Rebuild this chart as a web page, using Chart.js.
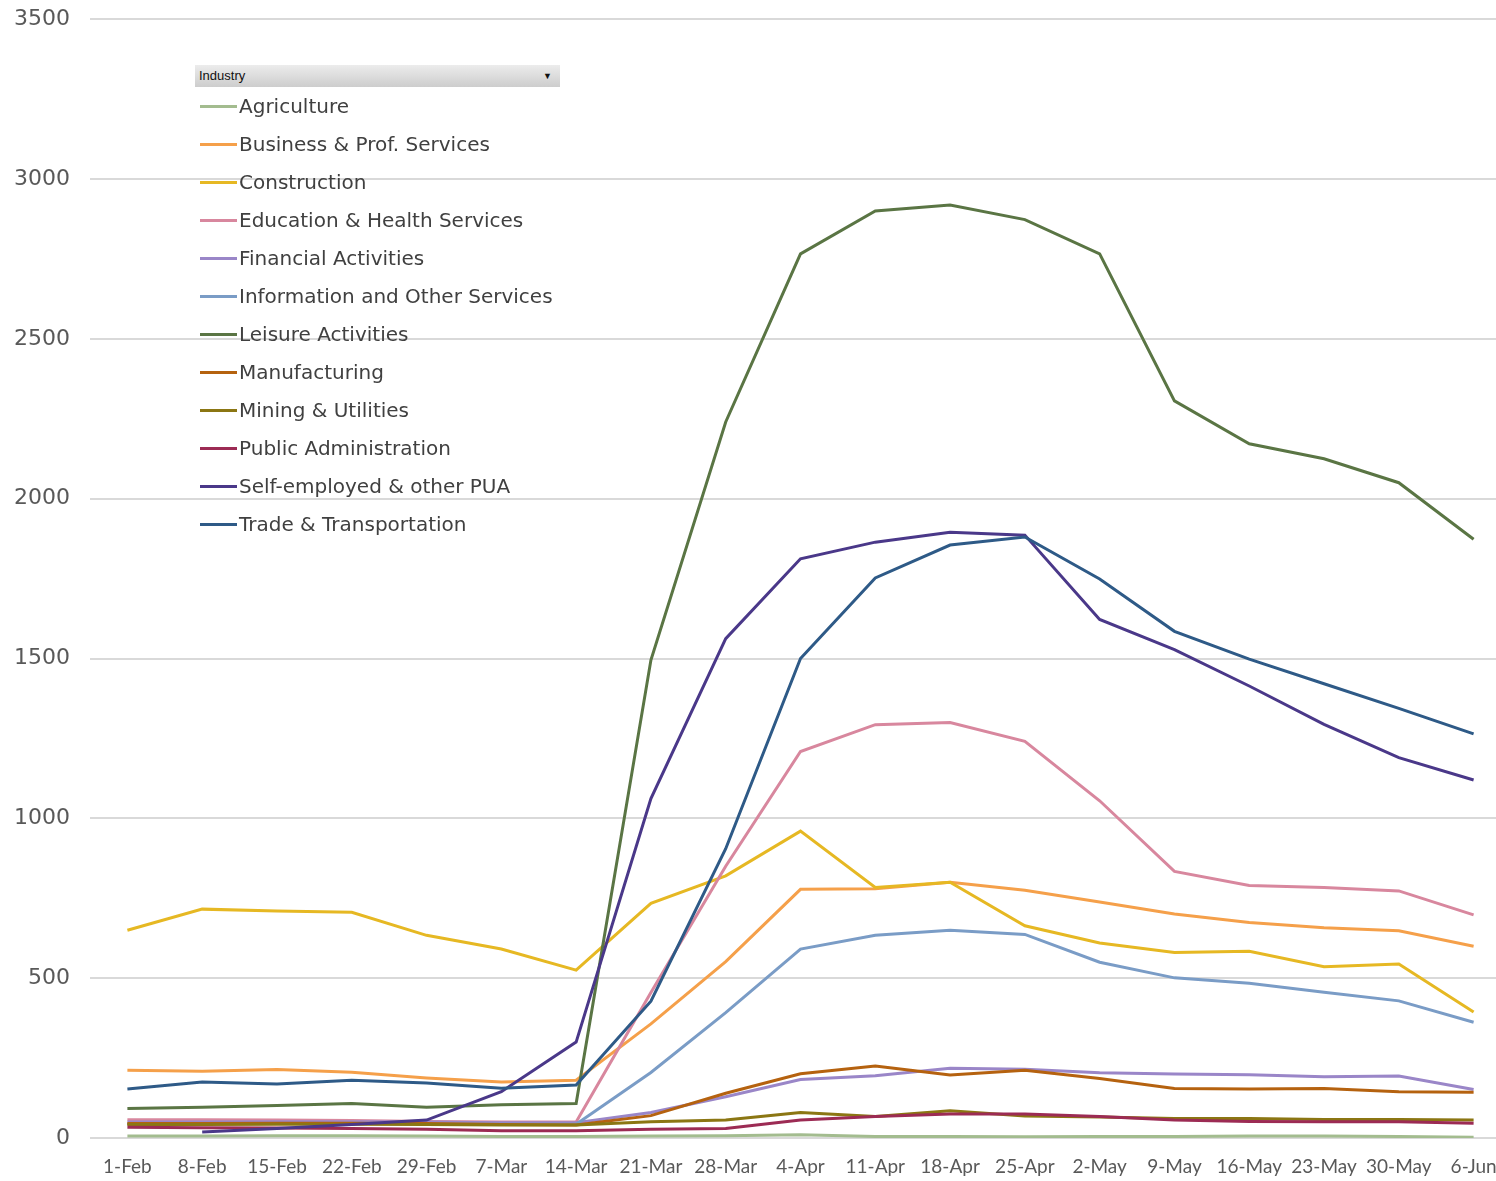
<!DOCTYPE html>
<html>
<head>
<meta charset="utf-8">
<script src="https://cdn.jsdelivr.net/npm/chart.js@4/dist/chart.umd.min.js"></script>
<style>
  body { margin: 0; background: #fff; overflow: hidden; }
  #wrap { position: relative; width: 1496px; height: 1181px; overflow: hidden; }
  /* canvas is a bit bigger than the view: the original picture is cropped on top and right */
  #lineChart { position: absolute; left: 0; top: -14px; }
  #legend { position: absolute; left: 195px; top: 65px; width: 365px; font-family: "DejaVu Sans", sans-serif; }
  #legend .head { height: 22px; background: linear-gradient(#ececec, #cdcdcd); font: 13px "Liberation Sans", Arial, sans-serif; color: #111; line-height: 22px; padding-left: 4px; position: relative; }
  #legend .head span { position: absolute; right: 8px; top: 0; font-size: 9px; }
  #legend .row { height: 38px; display: flex; align-items: center; font-size: 20px; color: #404040; }
  #legend .row i { display: inline-block; width: 37px; height: 3px; margin-left: 5px; margin-right: 2px; }
</style>
</head>
<body>
<div id="wrap">
  <canvas id="lineChart" width="1511" height="1195"></canvas>
  <div id="legend"></div>
</div>
<script>
const weeks = ['1-Feb','8-Feb','15-Feb','22-Feb','29-Feb','7-Mar','14-Mar','21-Mar','28-Mar','4-Apr','11-Apr','18-Apr','25-Apr','2-May','9-May','16-May','23-May','30-May','6-Jun'];
const yTicks = [0, 500, 1000, 1500, 2000, 2500, 3000, 3500];

const industries = ['Agriculture','Business & Prof. Services','Construction','Education & Health Services','Financial Activities','Information and Other Services','Leisure Activities','Manufacturing','Mining & Utilities','Public Administration','Self-employed & other PUA','Trade & Transportation'];
const colors = ['#a3bc8f','#f5a04a','#e6b823','#d8879e','#9a86c8','#7a9cc6','#5a7544','#b5620f','#8b7613','#9c2b54','#4a3889','#2e5a87'];

const agriculture   = [6,6,7,7,6,5,5,6,7,10,5,5,4,5,5,6,6,5,2];
const business      = [212,209,214,206,188,175,181,357,552,778,780,800,775,738,701,674,658,648,600];
const construction  = [650,716,710,706,634,591,525,734,820,960,784,800,664,610,580,584,536,544,394];
const education     = [57,57,56,55,52,50,50,455,850,1209,1293,1300,1241,1055,834,790,784,773,698];
const financial     = [50,50,51,51,50,48,48,80,129,183,195,218,215,204,200,198,192,194,152];
const information   = [44,44,45,45,44,43,43,205,392,591,634,650,637,550,501,484,456,429,362];
const leisure       = [92,96,102,108,96,104,108,1495,2240,2766,2900,2919,2873,2766,2306,2172,2125,2050,1873];
const manufacturing = [45,45,46,46,45,42,41,70,140,201,225,197,212,186,155,153,155,145,143];
const mining        = [42,42,43,43,42,41,41,51,56,80,67,85,69,66,61,61,58,58,56];
const publicAdmin   = [34,32,31,30,27,23,23,27,30,56,67,75,75,67,56,52,51,51,46];
const selfEmployed  = [null,19,30,42,56,145,300,1062,1562,1812,1864,1895,1886,1622,1528,1414,1294,1190,1120];
const trade         = [153,175,169,181,172,156,166,428,905,1500,1752,1855,1880,1749,1585,1498,1421,1344,1264];

const series = [agriculture, business, construction, education, financial, information, leisure, manufacturing, mining, publicAdmin, selfEmployed, trade];

const ctx = document.getElementById('lineChart');
const lineChart = new Chart(ctx, {
    type: 'line',
    data: {
        labels: weeks,
        datasets: industries.map((name, i) => ({
            label: name,
            data: series[i],
            borderColor: colors[i],
            backgroundColor: colors[i],
            borderWidth: 3,
            pointRadius: 0,
            tension: 0,
            order: -i
        }))
    },
    options: {
        responsive: false,
        animation: false,
        layout: { padding: 0 },
        plugins: { legend: { display: false }, tooltip: { enabled: false } },
        scales: {
            x: {
                offset: true,
                grid: { display: false },
                border: { display: false },
                ticks: { color: '#595959', font: { family: 'Lato', size: 19 }, padding: 9, maxRotation: 0, autoSkip: false },
                afterFit: (s) => { s.height = 43; }
            },
            y: {
                min: 0,
                max: 3500,
                afterBuildTicks: (s) => { s.ticks = yTicks.map(v => ({ value: v })); },
                grid: { color: '#d9d9d9', lineWidth: 2, drawTicks: false },
                border: { display: false },
                ticks: { color: '#595959', font: { family: 'DejaVu Sans', size: 22 }, padding: 20, callback: (v) => String(v) },
                afterFit: (s) => { s.width = 90; }
            }
        }
    }
});

// legend box in Excel slicer style
const legend = document.getElementById('legend');
legend.innerHTML = '<div class="head">Industry<span>&#9660;</span></div>' +
    lineChart.data.datasets.map(d => '<div class="row"><i style="background:' + d.borderColor + '"></i>' + d.label + '</div>').join('');
</script>
</body>
</html>
